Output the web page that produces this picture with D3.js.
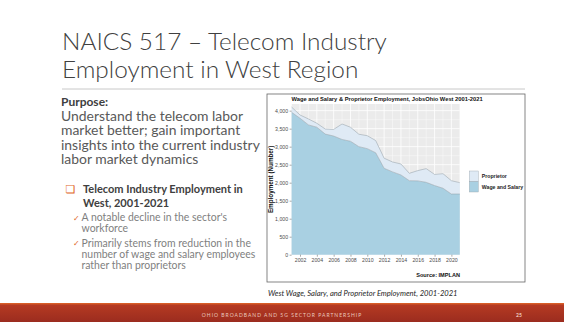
<!DOCTYPE html>
<html>
<head>
<meta charset="utf-8">
<script src="https://cdn.jsdelivr.net/npm/d3@7"></script>
<style>
  body { margin: 0; background: #fff; }
  svg { display: block; }
</style>
</head>
<body>
<svg id="slide" width="564" height="322"></svg>
<script>
// values
const years = [2001,2002,2003,2004,2005,2006,2007,2008,2009,2010,2011,2012,2013,2014,2015,2016,2017,2018,2019,2020,2021];
const wageSalary = [3955,3790,3605,3540,3350,3295,3200,3150,3000,2945,2830,2400,2300,2215,2055,2050,2010,1920,1845,1685,1685];
const proprietor = [145,90,165,110,140,185,430,390,345,360,340,280,275,305,205,285,380,310,405,370,315];
const yTicks = [0,500,1000,1500,2000,2500,3000,3500,4000];
const xTicks = [2002,2004,2006,2008,2010,2012,2014,2016,2018,2020];
const seriesNames = ["Wage and Salary","Proprietor"];

const svg = d3.select("#slide");
const sans = "Lato, 'Open Sans', sans-serif";
const arial = "'Liberation Sans', Arial, sans-serif";

// shrink/grow a group of text lines so the widest one hits a target width
function fit(sel, target){
  let w = 0;
  sel.each(function(){ w = Math.max(w, this.getComputedTextLength()); });
  let fs = parseFloat(sel.attr("font-size"));
  sel.attr("font-size", fs * target / w);
}

// ---- slide title
let title = svg.append("g").selectAll("text")
  .data(["NAICS 517 \u2013 Telecom Industry","Employment in West Region"])
  .enter().append("text")
  .attr("x", 62).attr("y", (d,i)=> 50 + i*27.5)
  .attr("font-family", sans).attr("font-weight", 300)
  .attr("font-size", 25).attr("fill", "#404040")
  .text(d=>d);
fit(title, 325);

svg.append("line").attr("x1", 62).attr("x2", 525).attr("y1", 89).attr("y2", 89)
  .attr("stroke", "#c8c8c8").attr("stroke-width", 1);

// ---- left text block
svg.append("text").attr("x", 61).attr("y", 106)
  .attr("font-family", sans).attr("font-weight", 700).attr("font-size", 12)
  .attr("fill", "#404040").text("Purpose:");

let purpose = svg.append("g").selectAll("text")
  .data(["Understand the telecom labor","market better; gain important",
         "insights into the current industry","labor market dynamics"])
  .enter().append("text")
  .attr("x", 61).attr("y", (d,i)=> 121 + i*14.4)
  .attr("font-family", sans).attr("font-size", 14).attr("fill", "#595959")
  .text(d=>d);
fit(purpose, 199);

svg.append("text").attr("x", 65.5).attr("y", 193)
  .attr("font-family", "'DejaVu Sans', sans-serif").attr("font-size", 11)
  .attr("fill", "#E0661F").text("\u274F");

let sub = svg.append("g").selectAll("text")
  .data(["Telecom Industry Employment in","West, 2001-2021"])
  .enter().append("text")
  .attr("x", 83).attr("y", (d,i)=> 193 + i*13.5)
  .attr("font-family", sans).attr("font-weight", 700).attr("font-size", 11.5)
  .attr("fill", "#404040").text(d=>d);
fit(sub, 160);

const checks = [
  {y: 221, lines: ["A notable decline in the sector's","workforce"]},
  {y: 246.5, lines: ["Primarily stems from reduction in the","number of wage and salary employees","rather than proprietors"]}
];
let checkLines = [];
checks.forEach(c=>{
  svg.append("text").attr("x", 73).attr("y", c.y - 0.5)
    .attr("font-family", "'DejaVu Sans', sans-serif").attr("font-size", 8)
    .attr("fill", "#E0661F").text("\u2713");
  c.lines.forEach((l,i)=>{
    checkLines.push(svg.append("text").attr("x", 81.5).attr("y", c.y + i*11.3)
      .attr("font-family", sans).attr("font-size", 9.5).attr("fill", "#7f7f7f").text(l).node());
  });
});
fit(d3.selectAll(checkLines), 174);

// ---- chart frame
svg.append("rect").attr("x", 267).attr("y", 94).attr("width", 258).attr("height", 188)
  .attr("fill", "#fff").attr("stroke", "#666").attr("stroke-width", 0.8);

const panel = {left: 291.6, right: 459.8, top: 104, bottom: 254.7};
const x = d3.scaleLinear().domain([2001, 2021]).range([panel.left, panel.right]);
const y = d3.scaleLinear().domain([0, 4185]).range([panel.bottom, panel.top]);

const rows = years.map((yr,i)=>({year: yr, wage: wageSalary[i], prop: proprietor[i]}));
const stack = d3.stack().keys(["wage","prop"])(rows);
const fills = {wage: "#A9D0E2", prop: "#DFEAF5"};

let chartTitle = svg.append("text").attr("x", 291.5).attr("y", 100.8)
  .attr("font-family", arial).attr("font-weight", 700).attr("font-size", 6.3)
  .attr("fill", "#111").text("Wage and Salary & Proprietor Employment, JobsOhio West 2001-2021");
fit(chartTitle, 191);

const g = svg.append("g");
g.append("rect").attr("x", panel.left).attr("y", panel.top)
  .attr("width", panel.right - panel.left).attr("height", panel.bottom - panel.top)
  .attr("fill", "#EBEBEB");

// grid: minor then major
const yMinor = yTicks.map(t=>t + 250).filter(t=>t < 4185);
const xMinor = [2001,2003,2005,2007,2009,2011,2013,2015,2017,2019,2021];
g.selectAll(".ym").data(yMinor).enter().append("line")
  .attr("x1", panel.left).attr("x2", panel.right)
  .attr("y1", d=>y(d)).attr("y2", d=>y(d))
  .attr("stroke", "#fff").attr("stroke-width", 0.4);
g.selectAll(".xm").data(xMinor).enter().append("line")
  .attr("y1", panel.top).attr("y2", panel.bottom)
  .attr("x1", d=>x(d)).attr("x2", d=>x(d))
  .attr("stroke", "#fff").attr("stroke-width", 0.4);
g.selectAll(".yM").data(yTicks).enter().append("line")
  .attr("x1", panel.left).attr("x2", panel.right)
  .attr("y1", d=>y(d)).attr("y2", d=>y(d))
  .attr("stroke", "#fff").attr("stroke-width", 0.8);
g.selectAll(".xM").data(xTicks).enter().append("line")
  .attr("y1", panel.top).attr("y2", panel.bottom)
  .attr("x1", d=>x(d)).attr("x2", d=>x(d))
  .attr("stroke", "#fff").attr("stroke-width", 0.8);

const area = d3.area().x(d=>x(d.data.year)).y0(d=>y(d[0])).y1(d=>y(d[1]));
const topLine = d3.line().x(d=>x(d.data.year)).y(d=>y(d[1]));
g.selectAll(".layer").data(stack).enter().append("path")
  .attr("d", area).attr("fill", d=>fills[d.key]);
g.selectAll(".edge").data(stack).enter().append("path")
  .attr("d", topLine).attr("fill", "none")
  .attr("stroke", "#8e9aa3").attr("stroke-width", 0.5);

// axes
const yAxis = svg.append("g").attr("transform", `translate(${panel.left},0)`)
  .call(d3.axisLeft(y).tickValues(yTicks).tickFormat(d3.format(",")).tickSize(2).tickPadding(1.5));
const xAxis = svg.append("g").attr("transform", `translate(0,${panel.bottom})`)
  .call(d3.axisBottom(x).tickValues(xTicks).tickFormat(d3.format("d")).tickSize(2).tickPadding(1.5));
[xAxis, yAxis].forEach(a=>{
  a.select(".domain").remove();
  a.selectAll(".tick line").attr("stroke", "#555").attr("stroke-width", 0.5);
  a.selectAll(".tick text").attr("font-family", arial).attr("font-size", 5.2).attr("fill", "#4d4d4d");
});

svg.append("text")
  .attr("transform", `translate(272.8,${(panel.top + panel.bottom)/2}) rotate(-90)`)
  .attr("text-anchor", "middle")
  .attr("font-family", arial).attr("font-weight", 700).attr("font-size", 6.3)
  .attr("fill", "#111").text("Employment (Number)");

// legend
const legend = svg.append("g").attr("transform", "translate(469.3,171)");
["prop","wage"].forEach((k,i)=>{
  legend.append("rect").attr("x", 0).attr("y", i*10.5).attr("width", 9).attr("height", 10.5)
    .attr("fill", fills[k]).attr("stroke", "#9aa3aa").attr("stroke-width", 0.4);
  legend.append("text").attr("x", 12.5).attr("y", i*10.5 + 7)
    .attr("font-family", arial).attr("font-weight", 700).attr("font-size", 5.2)
    .attr("fill", "#222").text(k === "prop" ? seriesNames[1] : seriesNames[0]);
});

svg.append("text").attr("x", 460).attr("y", 277).attr("text-anchor", "end")
  .attr("font-family", arial).attr("font-weight", 700).attr("font-size", 5.6)
  .attr("fill", "#111").text("Source: IMPLAN");

// caption
let caption = svg.append("text").attr("x", 268).attr("y", 296)
  .attr("font-family", sans).attr("font-style", "italic").attr("font-size", 8.5)
  .attr("fill", "#262626").text("West Wage, Salary, and Proprietor Employment, 2001-2021");
fit(caption, 190);

// ---- footer band
const defs = svg.append("defs");
const grad = defs.append("linearGradient").attr("id", "foot").attr("x1", 0).attr("x2", 0).attr("y1", 0).attr("y2", 1);
grad.append("stop").attr("offset", "0").attr("stop-color", "#E2672A");
grad.append("stop").attr("offset", "0.12").attr("stop-color", "#B53A22");
grad.append("stop").attr("offset", "1").attr("stop-color", "#9B2C1F");
svg.append("rect").attr("x", 0).attr("y", 303).attr("width", 564).attr("height", 19).attr("fill", "url(#foot)");
svg.append("text").attr("x", 282).attr("y", 316.5).attr("text-anchor", "middle")
  .attr("font-family", sans).attr("font-size", 5).attr("letter-spacing", 1)
  .attr("fill", "#EBC8BF").text("OHIO BROADBAND AND 5G SECTOR PARTNERSHIP");
svg.append("text").attr("x", 519).attr("y", 316.5).attr("text-anchor", "middle")
  .attr("font-family", sans).attr("font-weight", 700).attr("font-size", 5)
  .attr("fill", "#EBC8BF").text("25");
</script>
</body>
</html>
